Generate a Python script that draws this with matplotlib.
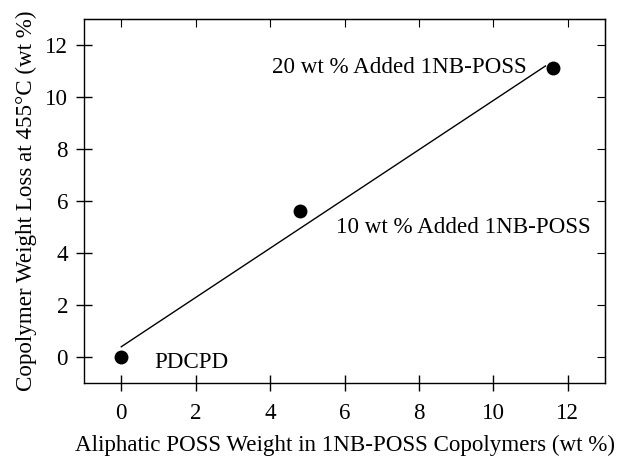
import numpy as np
import matplotlib
matplotlib.use("Agg")
import matplotlib.pyplot as plt

plt.rcParams["font.family"] = ["Liberation Serif", "DejaVu Serif"]

# Aliphatic POSS content vs. weight loss at 455 °C
poss_wt = [0.0, 4.8, 11.6]
weight_loss = [0.0, 5.6, 11.1]
point_labels = ["PDCPD", "10 wt % Added 1NB-POSS", "20 wt % Added 1NB-POSS"]
x_ticks = [0, 2, 4, 6, 8, 10, 12]
y_ticks = [0, 2, 4, 6, 8, 10, 12]

fig = plt.figure(figsize=(6.18, 4.58), dpi=100)
ax = fig.add_axes([0.136, 0.164, 0.843, 0.795])

# linear least-squares fit through the three samples
slope, intercept = np.polyfit(poss_wt, weight_loss, 1)
xf = np.array([0.0, 11.4])
ax.plot(xf, slope * xf + intercept, color="black", lw=1.0)

ax.plot(poss_wt, weight_loss, "o", color="black", ms=9, zorder=3)

fs = 16.6
ax.text(0.88, -0.42, point_labels[0], fontsize=fs, va="baseline", ha="left")
ax.text(5.76, 4.77, point_labels[1], fontsize=fs, va="baseline", ha="left")
ax.text(4.06, 10.92, point_labels[2], fontsize=fs, va="baseline", ha="left")

ax.set_xlim(-1, 13)
ax.set_ylim(-1, 13)
ax.set_xticks(x_ticks)
ax.set_yticks(y_ticks)

for side in ax.spines.values():
    side.set_linewidth(1.0)

ax.tick_params(axis="both", which="major", direction="inout", length=11,
               width=1.0, labelsize=fs)
ax.tick_params(axis="x", pad=9)
ax.tick_params(axis="y", pad=6)

# inward ticks on the opposite sides
ax_top = ax.secondary_xaxis("top")
ax_top.set_xticks(x_ticks)
ax_top.tick_params(direction="in", length=6, labeltop=False)
ax_right = ax.secondary_yaxis("right")
ax_right.set_yticks(y_ticks)
ax_right.tick_params(direction="in", length=6, labelright=False)

ax.set_xlabel("Aliphatic POSS Weight in 1NB-POSS Copolymers (wt %)", fontsize=fs, labelpad=8)
ax.set_ylabel("Copolymer Weight Loss at 455\u00b0C (wt %)", fontsize=fs, labelpad=6)

fig.savefig("out.png", dpi=100)
